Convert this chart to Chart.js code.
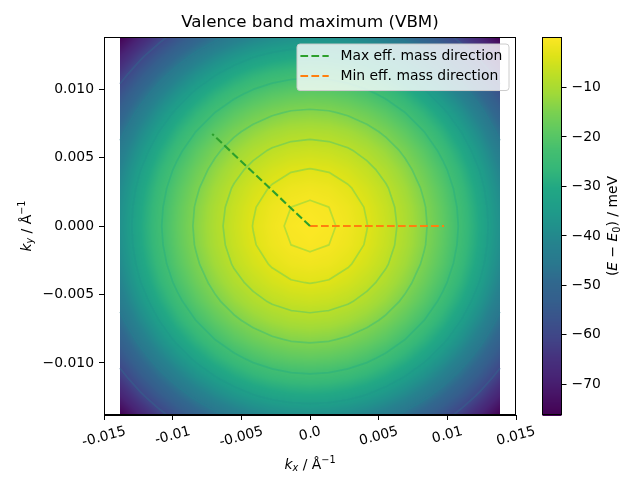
<!DOCTYPE html>
<html><head><meta charset="utf-8">
<script src="https://cdn.jsdelivr.net/npm/chart.js@4.4.1/dist/chart.umd.min.js"></script>
<style>html,body{margin:0;padding:0;background:#fff;}canvas{display:block;}</style>
</head><body>
<canvas id="c" width="640" height="480"></canvas>
<script>
// ---------------- data ----------------
const kxValues = [-0.0138,-0.01242,-0.01104,-0.00966,-0.00828,-0.0069,-0.00552,-0.00414,-0.00276,-0.00138,0,0.00138,0.00276,0.00414,0.00552,0.0069,0.00828,0.00966,0.01104,0.01242,0.0138];
const kyValues = [-0.0138,-0.01242,-0.01104,-0.00966,-0.00828,-0.0069,-0.00552,-0.00414,-0.00276,-0.00138,0,0.00138,0.00276,0.00414,0.00552,0.0069,0.00828,0.00966,0.01104,0.01242,0.0138];
// energy (meV) rows, ky ascending; columns kx ascending
const energyGrid = [
[-76.3,-69.0,-62.6,-56.8,-51.9,-47.7,-44.2,-41.6,-39.7,-38.5,-38.1,-38.5,-39.7,-41.6,-44.2,-47.7,-51.9,-56.8,-62.6,-69.0,-76.3],
[-69.0,-61.8,-55.3,-49.6,-44.6,-40.4,-37.0,-34.3,-32.4,-31.3,-30.9,-31.3,-32.4,-34.3,-37.0,-40.4,-44.6,-49.6,-55.3,-61.8,-69.0],
[-62.6,-55.3,-48.8,-43.1,-38.1,-34.0,-30.5,-27.8,-25.9,-24.8,-24.4,-24.8,-25.9,-27.8,-30.5,-34.0,-38.1,-43.1,-48.8,-55.3,-62.6],
[-56.8,-49.6,-43.1,-37.4,-32.4,-28.2,-24.8,-22.1,-20.2,-19.1,-18.7,-19.1,-20.2,-22.1,-24.8,-28.2,-32.4,-37.4,-43.1,-49.6,-56.8],
[-51.9,-44.6,-38.1,-32.4,-27.5,-23.3,-19.8,-17.2,-15.3,-14.1,-13.7,-14.1,-15.3,-17.2,-19.8,-23.3,-27.5,-32.4,-38.1,-44.6,-51.9],
[-47.7,-40.4,-34.0,-28.2,-23.3,-19.1,-15.6,-13.0,-11.1,-9.9,-9.5,-9.9,-11.1,-13.0,-15.6,-19.1,-23.3,-28.2,-34.0,-40.4,-47.7],
[-44.2,-37.0,-30.5,-24.8,-19.8,-15.6,-12.2,-9.5,-7.6,-6.5,-6.1,-6.5,-7.6,-9.5,-12.2,-15.6,-19.8,-24.8,-30.5,-37.0,-44.2],
[-41.6,-34.3,-27.8,-22.1,-17.2,-13.0,-9.5,-6.9,-5.0,-3.8,-3.4,-3.8,-5.0,-6.9,-9.5,-13.0,-17.2,-22.1,-27.8,-34.3,-41.6],
[-39.7,-32.4,-25.9,-20.2,-15.3,-11.1,-7.6,-5.0,-3.1,-1.9,-1.5,-1.9,-3.1,-5.0,-7.6,-11.1,-15.3,-20.2,-25.9,-32.4,-39.7],
[-38.5,-31.3,-24.8,-19.1,-14.1,-9.9,-6.5,-3.8,-1.9,-0.8,-0.4,-0.8,-1.9,-3.8,-6.5,-9.9,-14.1,-19.1,-24.8,-31.3,-38.5],
[-38.1,-30.9,-24.4,-18.7,-13.7,-9.5,-6.1,-3.4,-1.5,-0.4,0,-0.4,-1.5,-3.4,-6.1,-9.5,-13.7,-18.7,-24.4,-30.9,-38.1],
[-38.5,-31.3,-24.8,-19.1,-14.1,-9.9,-6.5,-3.8,-1.9,-0.8,-0.4,-0.8,-1.9,-3.8,-6.5,-9.9,-14.1,-19.1,-24.8,-31.3,-38.5],
[-39.7,-32.4,-25.9,-20.2,-15.3,-11.1,-7.6,-5.0,-3.1,-1.9,-1.5,-1.9,-3.1,-5.0,-7.6,-11.1,-15.3,-20.2,-25.9,-32.4,-39.7],
[-41.6,-34.3,-27.8,-22.1,-17.2,-13.0,-9.5,-6.9,-5.0,-3.8,-3.4,-3.8,-5.0,-6.9,-9.5,-13.0,-17.2,-22.1,-27.8,-34.3,-41.6],
[-44.2,-37.0,-30.5,-24.8,-19.8,-15.6,-12.2,-9.5,-7.6,-6.5,-6.1,-6.5,-7.6,-9.5,-12.2,-15.6,-19.8,-24.8,-30.5,-37.0,-44.2],
[-47.7,-40.4,-34.0,-28.2,-23.3,-19.1,-15.6,-13.0,-11.1,-9.9,-9.5,-9.9,-11.1,-13.0,-15.6,-19.1,-23.3,-28.2,-34.0,-40.4,-47.7],
[-51.9,-44.6,-38.1,-32.4,-27.5,-23.3,-19.8,-17.2,-15.3,-14.1,-13.7,-14.1,-15.3,-17.2,-19.8,-23.3,-27.5,-32.4,-38.1,-44.6,-51.9],
[-56.8,-49.6,-43.1,-37.4,-32.4,-28.2,-24.8,-22.1,-20.2,-19.1,-18.7,-19.1,-20.2,-22.1,-24.8,-28.2,-32.4,-37.4,-43.1,-49.6,-56.8],
[-62.6,-55.3,-48.8,-43.1,-38.1,-34.0,-30.5,-27.8,-25.9,-24.8,-24.4,-24.8,-25.9,-27.8,-30.5,-34.0,-38.1,-43.1,-48.8,-55.3,-62.6],
[-69.0,-61.8,-55.3,-49.6,-44.6,-40.4,-37.0,-34.3,-32.4,-31.3,-30.9,-31.3,-32.4,-34.3,-37.0,-40.4,-44.6,-49.6,-55.3,-61.8,-69.0],
[-76.3,-69.0,-62.6,-56.8,-51.9,-47.7,-44.2,-41.6,-39.7,-38.5,-38.1,-38.5,-39.7,-41.6,-44.2,-47.7,-51.9,-56.8,-62.6,-69.0,-76.3]
];
const contourLevels = [-60.0,-46.2,-33.8,-23.4,-14.6,-8.1,-3.5,-0.8];
const seriesNames = ['Max eff. mass direction','Min eff. mass direction'];
const maxDirKx = [0, -0.00712];
const maxDirKy = [0, 0.00672];
const minDirKx = [0, 0.00976];
const minDirKy = [0, 0];
const xTickValues = [-0.015,-0.01,-0.005,0,0.005,0.01,0.015];
const xTickLabels = ['-0.015','-0.01','-0.005','0.0','0.005','0.01','0.015'];
const yTickValues = [-0.01,-0.005,0,0.005,0.01];
const yTickLabels = ['\u22120.010','\u22120.005','0.000','0.005','0.010'];
const cbTickValues = [-70,-60,-50,-40,-30,-20,-10];
const cbTickLabels = ['\u221270','\u221260','\u221250','\u221240','\u221230','\u221220','\u221210'];
const cbRange = [-76.3, 0.1];

// ---------------- styles / helpers ----------------
const FONT = "'DejaVu Sans', sans-serif";
const VIR = [[0,68,1,84],[0.05,71,19,101],[0.1,72,36,117],[0.15,70,50,126],[0.2,65,68,135],[0.25,59,82,139],[0.3,53,95,141],[0.35,49,104,142],[0.4,42,120,142],[0.45,38,130,142],[0.5,33,145,140],[0.55,31,158,137],[0.6,34,168,132],[0.65,53,183,121],[0.7,68,191,112],[0.75,94,201,98],[0.8,122,209,81],[0.85,160,218,57],[0.9,189,223,38],[0.95,223,227,24],[1,253,231,37]];
function viridis(t){
  t = Math.max(0, Math.min(1, t));
  for (let k=1;k<VIR.length;k++){
    if (t <= VIR[k][0]){
      const a=VIR[k-1], b=VIR[k], f=(t-a[0])/(b[0]-a[0]);
      return [a[1]+(b[1]-a[1])*f, a[2]+(b[2]-a[2])*f, a[3]+(b[3]-a[3])*f];
    }
  }
  return [253,231,37];
}
const LUT = []; for (let k=0;k<1024;k++) LUT.push(viridis(k/1023));
function lut(t){ const k=Math.max(0,Math.min(1023,Math.round(t*1023))); return LUT[k]; }
function normE(v){ return (v-cbRange[0])/(cbRange[1]-cbRange[0]); }

function drawRich(ctx, runs, cx, cy, rot, size){
  ctx.save(); ctx.translate(cx, cy); ctx.rotate(rot);
  let total = 0;
  const ms = runs.map(r=>{
    const fs = (r.sub||r.sup) ? size*0.7 : size;
    const f = (r.it?'italic ':'') + fs + 'px ' + FONT;
    ctx.font = f; const w = ctx.measureText(r.t).width; total += w;
    return {f, w, dy: r.sub ? size*0.2 : (r.sup ? -size*0.42 : 0)};
  });
  let x = -total/2;
  ctx.textAlign='left'; ctx.textBaseline='alphabetic'; ctx.fillStyle='#000';
  runs.forEach((r,i)=>{ ctx.font = ms[i].f; ctx.fillText(r.t, x, ms[i].dy); x += ms[i].w; });
  ctx.restore();
}

function sampleGrid(kx, ky){
  const nx=kxValues.length, ny=kyValues.length;
  if (kx<kxValues[0]||kx>kxValues[nx-1]||ky<kyValues[0]||ky>kyValues[ny-1]) return null;
  let i=0; while(i<nx-2 && kx>kxValues[i+1]) i++;
  let j=0; while(j<ny-2 && ky>kyValues[j+1]) j++;
  const tx=(kx-kxValues[i])/(kxValues[i+1]-kxValues[i]);
  const ty=(ky-kyValues[j])/(kyValues[j+1]-kyValues[j]);
  const g=energyGrid;
  return (1-ty)*((1-tx)*g[j][i]+tx*g[j][i+1]) + ty*((1-tx)*g[j+1][i]+tx*g[j+1][i+1]);
}

const contourPlugin = {
  id:'contourMap',
  beforeDatasetsDraw(chart){
    const {ctx, chartArea:a} = chart; const xs=chart.scales.x, ys=chart.scales.y;
    const L=Math.floor(a.left), T=Math.floor(a.top);
    const w=Math.ceil(a.right)-L, h=Math.ceil(a.bottom)-T;
    const off=document.createElement('canvas'); off.width=w; off.height=h;
    const octx=off.getContext('2d'); const img=octx.createImageData(w,h); const d=img.data;
    for (let py=0; py<h; py++){
      const ky=ys.getValueForPixel(T+py+0.5);
      for (let px=0; px<w; px++){
        const kx=xs.getValueForPixel(L+px+0.5);
        const v=sampleGrid(kx,ky); if (v===null) continue;
        const c=lut(normE(v)); const o=(py*w+px)*4;
        d[o]=c[0]; d[o+1]=c[1]; d[o+2]=c[2]; d[o+3]=255;
      }
    }
    octx.putImageData(img,0,0);
    ctx.save();
    ctx.beginPath(); ctx.rect(a.left,a.top,a.right-a.left,a.bottom-a.top); ctx.clip();
    ctx.drawImage(off,L,T);
    // contour lines (marching squares on the grid)
    ctx.lineWidth=1.7; ctx.lineJoin='round'; ctx.lineCap='round'; ctx.globalAlpha=0.7;
    const g=energyGrid, nx=kxValues.length, ny=kyValues.length;
    contourLevels.forEach(lv=>{
      const c=viridis(0.136+0.72*normE(lv));
      ctx.strokeStyle=`rgb(${c[0]|0},${c[1]|0},${c[2]|0})`;
      ctx.beginPath();
      for (let j=0;j<ny-1;j++) for (let i=0;i<nx-1;i++){
        const corners=[[kxValues[i],kyValues[j],g[j][i]],[kxValues[i+1],kyValues[j],g[j][i+1]],[kxValues[i+1],kyValues[j+1],g[j+1][i+1]],[kxValues[i],kyValues[j+1],g[j+1][i]]];
        const pts=[];
        for (let e=0;e<4;e++){
          const p=corners[e], q=corners[(e+1)%4];
          if ((p[2]<lv)!==(q[2]<lv)){
            const t=(lv-p[2])/(q[2]-p[2]);
            pts.push([xs.getPixelForValue(p[0]+(q[0]-p[0])*t), ys.getPixelForValue(p[1]+(q[1]-p[1])*t)]);
          }
        }
        for (let s=0;s+1<pts.length;s+=2){ ctx.moveTo(pts[s][0],pts[s][1]); ctx.lineTo(pts[s+1][0],pts[s+1][1]); }
      }
      ctx.stroke();
    });
    ctx.restore();
  },
  afterDatasetsDraw(chart){
    const {ctx, chartArea:a} = chart;
    ctx.save();
    // axes frame
    ctx.strokeStyle='#000'; ctx.lineWidth=1;
    ctx.strokeRect(Math.round(a.left)+0.5, Math.round(a.top)+0.5, Math.round(a.right-a.left)-1, Math.round(a.bottom-a.top)-1);
    // legend
    const fs=13.9; ctx.font=fs+'px '+FONT;
    const tw=Math.max(...seriesNames.map(s=>ctx.measureText(s).width));
    const bw=5.6+27.8+11.1+tw+5.6, bh=46.5;
    const bx=a.right-7-bw, by=a.top+7;
    const r=3;
    ctx.beginPath();
    ctx.moveTo(bx+r,by); ctx.lineTo(bx+bw-r,by); ctx.quadraticCurveTo(bx+bw,by,bx+bw,by+r);
    ctx.lineTo(bx+bw,by+bh-r); ctx.quadraticCurveTo(bx+bw,by+bh,bx+bw-r,by+bh);
    ctx.lineTo(bx+r,by+bh); ctx.quadraticCurveTo(bx,by+bh,bx,by+bh-r);
    ctx.lineTo(bx,by+r); ctx.quadraticCurveTo(bx,by,bx+r,by); ctx.closePath();
    ctx.fillStyle='rgba(255,255,255,0.8)'; ctx.fill();
    ctx.strokeStyle='#cccccc'; ctx.lineWidth=1; ctx.stroke();
    chart.data.datasets.forEach((ds,k)=>{
      const yy=by+12+k*20;
      ctx.beginPath(); ctx.setLineDash(ds.borderDash); ctx.strokeStyle=ds.borderColor; ctx.lineWidth=ds.borderWidth;
      ctx.moveTo(bx+3.4,yy); ctx.lineTo(bx+31.7,yy); ctx.stroke(); ctx.setLineDash([]);
      ctx.fillStyle='#000'; ctx.textAlign='left'; ctx.textBaseline='middle';
      ctx.fillText(ds.label, bx+43.4, yy+0.5);
    });
    ctx.restore();
  },
  afterDraw(chart){
    const {ctx, chartArea:a} = chart; const xs=chart.scales.x, cb=chart.scales.cb;
    ctx.save();
    // x tick labels (rotated 15 deg, centred)
    ctx.font='13.9px '+FONT; ctx.fillStyle='#000'; ctx.textAlign='center'; ctx.textBaseline='middle';
    const ang=15*Math.PI/180;
    xTickValues.forEach((v,i)=>{
      const px=xs.getPixelForValue(v); const w=ctx.measureText(xTickLabels[i]).width;
      const cy=a.bottom+10+(w*Math.sin(ang)+13*Math.cos(ang))/2;
      ctx.save(); ctx.translate(px,cy); ctx.rotate(-ang); ctx.fillText(xTickLabels[i],0,0); ctx.restore();
    });
    // axis titles
    drawRich(ctx,[{t:'k',it:1},{t:'x',it:1,sub:1},{t:' / \u00c5'},{t:'\u22121',sup:1}], (a.left+a.right)/2, 468.5, 0, 13.9);
    drawRich(ctx,[{t:'k',it:1},{t:'y',it:1,sub:1},{t:' / \u00c5'},{t:'\u22121',sup:1}], 30.5, (a.top+a.bottom)/2, -Math.PI/2, 13.9);
    // colorbar
    const x0=a.right+26.5, x1=a.right+45.5;
    for (let y=Math.floor(cb.top); y<Math.ceil(cb.bottom); y++){
      const c=lut(normE(cb.getValueForPixel(y+0.5)));
      ctx.fillStyle=`rgb(${c[0]|0},${c[1]|0},${c[2]|0})`;
      ctx.fillRect(x0,y,x1-x0,1);
    }
    ctx.strokeStyle='#000'; ctx.lineWidth=1;
    ctx.strokeRect(x0, Math.round(cb.top)+0.5, x1-x0, Math.round(cb.bottom-cb.top)-1);
    ctx.beginPath();
    cbTickValues.forEach(v=>{ const py=Math.round(cb.getPixelForValue(v))+0.5; ctx.moveTo(x1,py); ctx.lineTo(x1+5,py); });
    ctx.stroke();
    ctx.font='13.9px '+FONT; ctx.fillStyle='#000'; ctx.textAlign='left'; ctx.textBaseline='middle';
    cbTickValues.forEach((v,i)=>{ ctx.fillText(cbTickLabels[i], x1+10, cb.getPixelForValue(v)+0.5); });
    drawRich(ctx,[{t:'('},{t:'E',it:1},{t:' \u2212 '},{t:'E',it:1},{t:'0',sub:1},{t:')'},{t:' / meV'}], 617, (cb.top+cb.bottom)/2, -Math.PI/2, 13.9);
    ctx.restore();
  }
};

new Chart(document.getElementById('c'), {
  type:'scatter',
  data:{ datasets:[
    { label:seriesNames[0], type:'line', showLine:true, data:maxDirKx.map((x,i)=>({x, y:maxDirKy[i]})),
      borderColor:'#2ca02c', backgroundColor:'#2ca02c', borderWidth:2.1, borderDash:[7.7,3.3], pointRadius:0, fill:false, tension:0, xAxisID:'x', yAxisID:'y' },
    { label:seriesNames[1], type:'line', showLine:true, data:minDirKx.map((x,i)=>({x, y:minDirKy[i]})),
      borderColor:'#ff7f0e', backgroundColor:'#ff7f0e', borderWidth:2.1, borderDash:[7.7,3.3], pointRadius:0, fill:false, tension:0, xAxisID:'x', yAxisID:'y' }
  ]},
  options:{
    responsive:false, animation:false, devicePixelRatio:1,
    layout:{padding:0},
    plugins:{
      legend:{display:false}, tooltip:{enabled:false},
      title:{display:true, text:'Valence band maximum (VBM)', color:'#000', fullSize:false,
        font:{family:FONT, size:16.7, weight:'normal'}, padding:{top:13, bottom:4}}
    },
    scales:{
      x:{ type:'linear', position:'bottom', min:-0.015, max:0.015,
        afterBuildTicks:s=>{ s.ticks=xTickValues.map(v=>({value:v})); },
        afterFit:s=>{ s.height=65; },
        ticks:{display:false, autoSkip:false},
        grid:{display:true, drawOnChartArea:false, drawTicks:true, tickLength:5, color:'#000', lineWidth:1},
        border:{display:true, color:'#000', width:1} },
      y:{ type:'linear', position:'left', min:-0.0138, max:0.0138,
        afterBuildTicks:s=>{ s.ticks=yTickValues.map(v=>({value:v})); },
        afterFit:s=>{ s.width=104; },
        ticks:{display:true, autoSkip:false, padding:5, color:'#000', font:{family:FONT, size:13.9},
          callback:(v,i)=>yTickLabels[i]},
        grid:{display:true, drawOnChartArea:false, drawTicks:true, tickLength:5, color:'#000', lineWidth:1},
        border:{display:true, color:'#000', width:1} },
      cb:{ type:'linear', position:'right', min:cbRange[0], max:cbRange[1],
        afterBuildTicks:s=>{ s.ticks=cbTickValues.map(v=>({value:v})); },
        afterFit:s=>{ s.width=124; },
        ticks:{display:false, autoSkip:false},
        grid:{display:false}, border:{display:false} }
    }
  },
  plugins:[contourPlugin]
});
</script>
</body></html>
